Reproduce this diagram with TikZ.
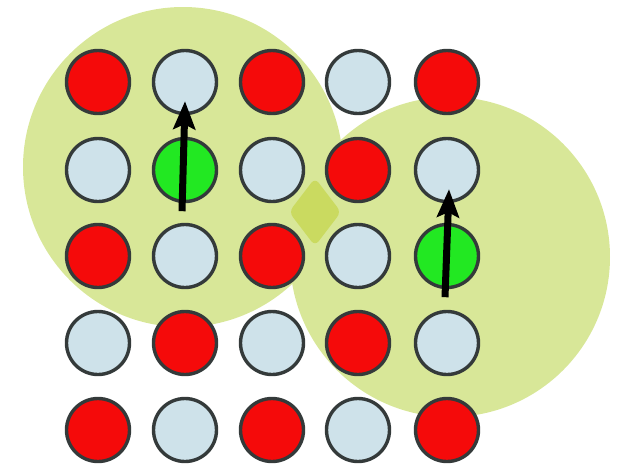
\documentclass[tikz,border=0pt]{standalone}
\usetikzlibrary{arrows.meta}
\definecolor{halo}{RGB}{216,231,152}
\definecolor{overlap}{RGB}{202,218,96}
\definecolor{dotred}{RGB}{245,10,10}
\definecolor{dotblue}{RGB}{206,226,234}
\definecolor{dotgreen}{RGB}{34,232,34}
\definecolor{rim}{RGB}{52,58,58}
\tikzset{
  dot/.style={circle,draw=rim,line width=3.4pt,minimum size=63pt,inner sep=0pt},
  r/.style={dot,fill=dotred},
  b/.style={dot,fill=dotblue},
  g/.style={dot,fill=dotgreen},
  spin/.style={line width=7pt,-{Stealth[length=28pt,width=22pt,inset=5pt]}}
}
\begin{document}
\begin{tikzpicture}[x=1pt,y=-1pt]
\useasboundingbox (0,0) rectangle (625,469);
% halos
\fill[halo] (183,167) circle (160);
\fill[halo] (450,257) circle (160);
\fill[overlap,rounded corners=6pt] (315,178) -- (341,212) -- (315,246) -- (289,212) -- cycle;
% grid
\node[r] (n11) at (98,82) {};
\node[b] (n12) at (185,82) {};
\node[r] (n13) at (272,82) {};
\node[b] (n14) at (358,82) {};
\node[r] (n15) at (447,82) {};
\node[b] (n21) at (98,170) {};
\node[g] (n22) at (185,170) {};
\node[b] (n23) at (272,170) {};
\node[r] (n24) at (358,170) {};
\node[b] (n25) at (447,170) {};
\node[r] (n31) at (98,256) {};
\node[b] (n32) at (185,256) {};
\node[r] (n33) at (272,256) {};
\node[b] (n34) at (358,256) {};
\node[g] (n35) at (447,256) {};
\node[b] (n41) at (98,343) {};
\node[r] (n42) at (185,343) {};
\node[b] (n43) at (272,343) {};
\node[r] (n44) at (358,343) {};
\node[b] (n45) at (447,343) {};
\node[r] (n51) at (98,430) {};
\node[b] (n52) at (185,430) {};
\node[r] (n53) at (272,430) {};
\node[b] (n54) at (358,430) {};
\node[r] (n55) at (447,430) {};
% spins
\draw[spin] ([xshift=-3pt,yshift=-8pt]n22.south) -- ([yshift=14pt]n12.south);
\draw[spin] ([xshift=-2pt,yshift=-8pt]n35.south) -- ([xshift=2pt,yshift=14pt]n25.south);
\end{tikzpicture}
\end{document}
